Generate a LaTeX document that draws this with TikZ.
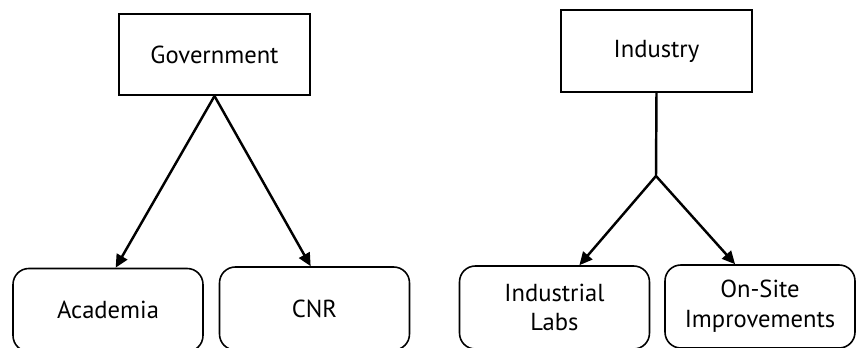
\documentclass[tikz,border=0pt]{standalone}
\usepackage{fontspec}
\setmainfont{PT Sans}
\usetikzlibrary{arrows.meta,positioning,calc}
\tikzset{
  topbox/.style={
    rectangle, draw=black, line width=0.9pt,
    minimum width=3.82cm, minimum height=1.63cm, align=center,
    font=\fontsize{14}{17}\selectfont
  },
  leafbox/.style={
    rectangle, rounded corners=9pt, draw=black, line width=0.9pt,
    minimum width=3.8cm, minimum height=1.66cm, align=center,
    font=\fontsize{14}{17}\selectfont
  },
  linkarrow/.style={-{Triangle[length=2.6mm, width=2.4mm]}, line width=1.4pt}
}
\begin{document}
\begin{tikzpicture}[x=0.02cm, y=-0.02cm]
\useasboundingbox (0,0) rectangle (856,348);
% government branch
\node[topbox] (gov) at (214.5,54.5) {Government};
\node[leafbox] (acad) at (108,310) {Academia};
\node[leafbox] (cnr) at (314.5,308.5) {CNR};
% industry branch
\node[topbox] (ind) at (656.5,51) {Industry};
\node[leafbox] (labs) at (554.5,307.5) {Industrial\\Labs};
\node[leafbox] (onsite) at (760,306.5) {On-Site\\Improvements};
\coordinate (fork) at (656,176);

\draw[linkarrow] (gov.south) -- ($(acad.north west)!0.54!(acad.north east)$);
\draw[linkarrow] (gov.south) -- ($(cnr.north west)!0.48!(cnr.north east)$);
\draw[line width=1.4pt] (ind.south) -- (fork);
\draw[linkarrow] (fork) -- ($(labs.north west)!0.63!(labs.north east)$);
\draw[linkarrow] (fork) -- ($(onsite.north west)!0.37!(onsite.north east)$);
\end{tikzpicture}
\end{document}
